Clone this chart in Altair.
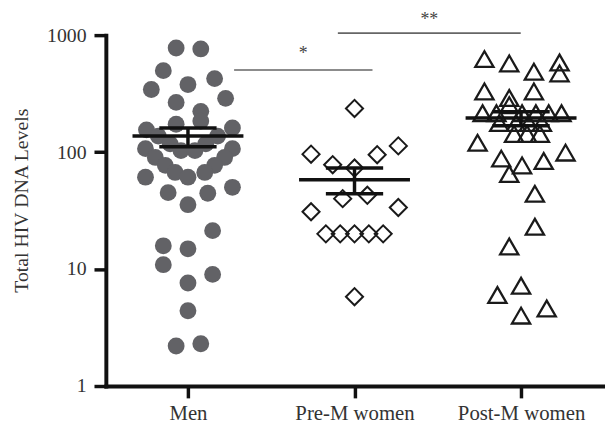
import altair as alt
import pandas as pd

groups = ["Men", "Pre-M women", "Post-M women"]

# Men (filled grey circles)
men_values = [776, 762, 497, 425, 343, 378, 288, 266, 223, 184,
              173, 155, 161, 137, 137, 117.5, 117.5, 103, 103, 107,
              107, 90, 90, 77, 77, 67, 67, 61, 61, 50,
              45, 44.5, 35.5, 21.3, 15.8, 14.9, 10.9, 9.0, 7.6, 4.4,
              2.2, 2.3]
men_offsets = [-0.071, 0.077, -0.148, 0.160, -0.220, 0, 0.226, -0.071, 0.077, 0.077,
               -0.071, -0.249, 0.267, -0.178, 0.178, -0.107, 0.107, -0.042, 0.042, -0.255,
               0.267, -0.196, 0.220, -0.136, 0.160, -0.077, 0.101, 0, -0.255, 0.267,
               -0.119, 0.119, 0, 0.148, -0.148, 0, -0.148, 0.148, 0, 0,
               -0.071, 0.077]

# Pre-M women (open diamonds)
pre_values = [236, 96, 113, 95, 78, 73, 40, 42.7, 30.9, 33.6,
              20, 20, 20, 20, 20, 5.8]
pre_offsets = [0, -0.261, 0.263, 0.136, -0.131, 0, -0.071, 0.077, -0.261, 0.263,
               -0.172, -0.086, 0, 0.086, 0.172, 0]

# Post-M women (open triangles)
post_values = [624, 573, 487, 584, 471, 330, 330, 290, 252,
               215, 215, 215, 215, 215, 215,
               177, 177, 177, 177,
               143, 143, 143,
               120, 99, 88, 77, 84, 65, 44, 23, 15.6, 7.2, 6.0, 4.0, 4.6]
post_offsets = [-0.220, -0.071, 0.077, 0.231, 0.231, -0.220, 0.077, -0.071, -0.071,
                -0.231, -0.148, 0.006, 0.089, 0.166, 0.243,
                -0.131, -0.030, 0.047, 0.125,
                -0.042, 0.036, 0.113,
                -0.261, 0.267, -0.119, 0.006, 0.136, -0.071, 0.083, 0.083, -0.071, 0, -0.142, 0, 0.154]

# Mean and SEM
means = [137, 58, 196]
sem_lo = [111, 44, 168]
sem_hi = [161, 73, 221]

# Significance annotations
sig_labels = ["*", "**"]
sig_from = [1.277, 1.900]
sig_to = [2.108, 2.998]
sig_level = [504, 1040]
sig_text_level = [690, 1340]

rows = []
for gi, (vals, offs) in enumerate([(men_values, men_offsets), (pre_values, pre_offsets), (post_values, post_offsets)]):
    for v, o in zip(vals, offs):
        rows.append({"group": groups[gi], "pos": gi + 1 + o, "value": v})
pts = pd.DataFrame(rows)

stats = pd.DataFrame({"group": groups, "pos": [1, 2, 3], "mean": means, "lo": sem_lo, "hi": sem_hi})
sig = pd.DataFrame({"label": sig_labels, "x1": sig_from, "x2": sig_to,
                    "y": sig_level, "ty": sig_text_level})
sig["xm"] = (sig["x1"] + sig["x2"]) / 2

SERIF = "Liberation Serif"
ytitle = "Total HIV DNA Levels"
label_expr = " : ".join(
    [f"datum.value == {i + 1} ? '{g}'" for i, g in enumerate(groups[:-1])] + [f"'{groups[-1]}'"]
)

xscale = alt.Scale(domain=[0.507, 3.504], nice=False, zero=False)
yscale = alt.Scale(type="log", domain=[1, 1000], nice=False)

xaxis = alt.Axis(values=[1, 2, 3], labelExpr=label_expr, grid=False,
                 tickSize=12, tickWidth=3.5, tickColor="#111", domainColor="#111",
                 domainWidth=4, domainCap="square", labelFont=SERIF, labelFontSize=21,
                 labelColor="#333", labelPadding=5)
yaxis = alt.Axis(values=[1, 10, 100, 1000], format="d", grid=False,
                 tickSize=12, tickWidth=3.5, tickColor="#111", domainColor="#111",
                 domainWidth=4, domainCap="square", labelFont=SERIF, labelFontSize=20,
                 labelColor="#333", labelPadding=8,
                 titleFont=SERIF, titleFontSize=20, titleFontWeight="normal",
                 titleColor="#333", titleX=-85, titleY=167, titleAngle=-90,
                 titleAlign="center", titleBaseline="middle")


def X(field):
    return alt.X(field, type="quantitative", scale=xscale, axis=xaxis, title=None)


def Y(field):
    return alt.Y(field, type="quantitative", scale=yscale, axis=yaxis, title=ytitle)


base = alt.Chart(pts)

men = base.transform_filter(alt.datum.group == groups[0]).mark_point(
    shape="circle", filled=True, size=290, color="#626266", opacity=1, strokeWidth=0
).encode(x=X("pos"), y=Y("value"))

pre = base.transform_filter(alt.datum.group == groups[1]).mark_point(
    shape="diamond", filled=False, size=300, color="#1a1a1a", opacity=1, strokeWidth=2
).encode(x=X("pos"), y=Y("value"))

post = base.transform_filter(alt.datum.group == groups[2]).mark_point(
    shape="triangle-up", filled=False, size=340, color="#1a1a1a", opacity=1, strokeWidth=2.3
).encode(x=X("pos"), y=Y("value"))

sbase = alt.Chart(stats).transform_calculate(
    m1="datum.pos - 0.333", m2="datum.pos + 0.333",
    s1="datum.pos - 0.172", s2="datum.pos + 0.172"
)
mean_rule = sbase.mark_rule(color="#111", strokeWidth=3.5).encode(
    x=X("m1"), x2="m2", y=Y("mean"))
hi_rule = sbase.mark_rule(color="#111", strokeWidth=3.5).encode(
    x=X("s1"), x2="s2", y=Y("hi"))
lo_rule = sbase.mark_rule(color="#111", strokeWidth=3.5).encode(
    x=X("s1"), x2="s2", y=Y("lo"))
v_rule = sbase.mark_rule(color="#111", strokeWidth=3.5).encode(
    x=X("pos"), y=Y("lo"), y2="hi")

sig_base = alt.Chart(sig)
sig_rule = sig_base.mark_rule(color="#666", strokeWidth=1.6).encode(
    x=X("x1"), x2="x2", y=Y("y"))
sig_text = sig_base.mark_text(font=SERIF, fontSize=18, color="#444", baseline="middle").encode(
    x=X("xm"), y=Y("ty"), text="label:N")

chart = alt.layer(
    men, pre, post, mean_rule, hi_rule, lo_rule, v_rule, sig_rule, sig_text
).properties(
    width=505, height=355,
    autosize=alt.AutoSizeParams(type="none"),
    padding={"left": 99, "top": 25, "right": 0, "bottom": 38},
).configure_view(stroke=None)

chart.save("out.html", embed_options={"renderer": "svg", "actions": False})
